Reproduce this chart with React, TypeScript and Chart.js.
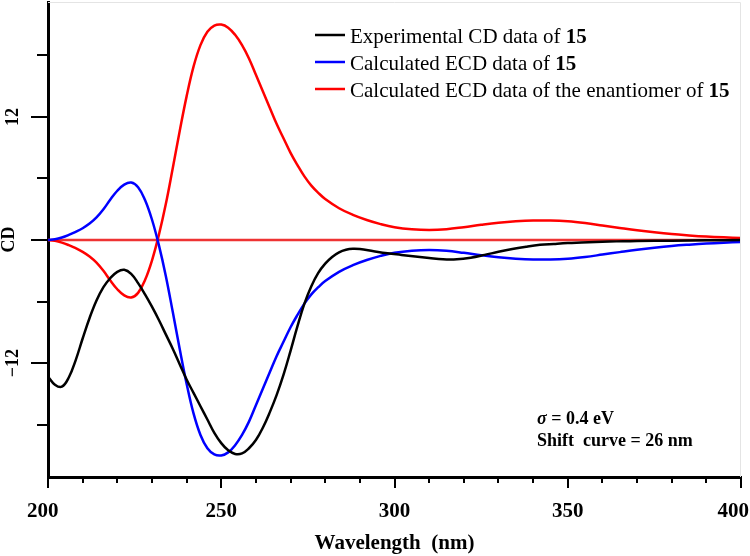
import React, { useEffect, useRef } from "react";
import { Chart, registerables } from "chart.js";

Chart.register(...registerables);

const expWavelength = [200,202,204,206,208,210,212,214,216,218,220,222,224,226,228,230,232,234,236,238,240,242,244,246,248,250,252,254,256,258,260,262,264,266,268,270,272,274,276,278,280,282,284,286,288,290,294,298,302,306,310,314,318,322,326,330,334,338,342,346,350,354,358,362,366,370,380,390,400];
const expCD = [-13.3,-14.1,-14.3,-13.4,-11.7,-9.6,-7.6,-5.9,-4.6,-3.7,-3.1,-2.9,-3.3,-4.2,-5.3,-6.5,-7.8,-9.2,-10.6,-12.1,-13.6,-14.9,-16.2,-17.5,-18.8,-19.8,-20.5,-20.85,-20.8,-20.3,-19.5,-18.3,-16.8,-15.1,-13.1,-10.8,-8.4,-6.2,-4.5,-3.2,-2.3,-1.65,-1.2,-0.95,-0.85,-0.88,-1.1,-1.3,-1.45,-1.6,-1.75,-1.88,-1.88,-1.72,-1.45,-1.15,-0.88,-0.65,-0.47,-0.38,-0.3,-0.25,-0.2,-0.15,-0.12,-0.1,-0.06,-0.03,0];

const calcWavelength = [200,202,204,206,208,210,212,214,216,218,220,222,224,226,228,230,232,234,236,238,240,242,244,246,248,250,252,254,256,258,260,262,264,266,268,270,272,274,276,278,280,284,288,292,296,300,305,310,315,320,325,330,335,340,345,350,355,360,365,370,375,380,385,390,395,400];
const calcCD = [0,0.08,0.25,0.5,0.8,1.15,1.6,2.2,3.0,3.95,4.8,5.4,5.6,5.15,3.9,2.0,-0.5,-3.5,-7.0,-10.6,-14.0,-16.9,-19.0,-20.3,-20.9,-21.0,-20.7,-20.0,-19.0,-17.7,-16.1,-14.5,-12.9,-11.3,-9.9,-8.5,-7.3,-6.2,-5.3,-4.6,-4.0,-3.1,-2.45,-1.95,-1.55,-1.25,-1.05,-0.98,-1.05,-1.25,-1.48,-1.68,-1.82,-1.9,-1.9,-1.82,-1.65,-1.42,-1.18,-0.95,-0.75,-0.58,-0.45,-0.34,-0.26,-0.2];
const enantCD = [0,-0.08,-0.25,-0.5,-0.8,-1.15,-1.6,-2.2,-3.0,-3.95,-4.8,-5.4,-5.6,-5.15,-3.9,-2.0,0.5,3.5,7.0,10.6,14.0,16.9,19.0,20.3,20.9,21.0,20.7,20.0,19.0,17.7,16.1,14.5,12.9,11.3,9.9,8.5,7.3,6.2,5.3,4.6,4.0,3.1,2.45,1.95,1.55,1.25,1.05,0.98,1.05,1.25,1.48,1.68,1.82,1.9,1.9,1.82,1.65,1.42,1.18,0.95,0.75,0.58,0.45,0.34,0.26,0.2];

const zeroWavelength = [200, 400];
const zeroCD = [0, 0];

const xMajorTicks = [200, 250, 300, 350, 400];
const xMinorTicks = [210, 220, 230, 240, 260, 270, 280, 290, 310, 320, 330, 340, 360, 370, 380, 390];
const yMajorTicks = [-12, 0, 12];
const yMinorTicks = [-18, -6, 6, 18];
const yLabelled = [-12, 12];

const legendItems = [
  { color: "#000000", text: "Experimental CD data of ", bold: "15" },
  { color: "#0000ff", text: "Calculated ECD data of ", bold: "15" },
  { color: "#ff0000", text: "Calculated ECD data of the enantiomer of ", bold: "15" },
];
const noteSigma = "σ";
const noteLine1 = " = 0.4 eV";
const noteLine2 = "Shift  curve = 26 nm";

const SERIF = "'Liberation Serif', 'Times New Roman', serif";

const pts = (xs: number[], ys: number[]) => xs.map((x, i) => ({ x, y: ys[i] }));

const decorPlugin = {
  id: "decor",
  afterDraw(chart: any) {
    const ctx = chart.ctx as CanvasRenderingContext2D;
    const xs = chart.scales.x;
    const ys = chart.scales.y;
    const { left, right, top, bottom } = chart.chartArea;
    ctx.save();
    ctx.strokeStyle = "#e4e4e4";
    ctx.lineWidth = 1;
    ctx.beginPath();
    ctx.moveTo(left, top + 0.5);
    ctx.lineTo(right - 0.5, top + 0.5);
    ctx.lineTo(right - 0.5, bottom);
    ctx.stroke();

    ctx.strokeStyle = "#000";
    ctx.lineWidth = 2;
    ctx.beginPath();
    xMajorTicks.forEach((v) => {
      const p = Math.round(xs.getPixelForValue(v));
      ctx.moveTo(p, bottom);
      ctx.lineTo(p, bottom + 11);
    });
    xMinorTicks.forEach((v) => {
      const p = Math.round(xs.getPixelForValue(v));
      ctx.moveTo(p, bottom);
      ctx.lineTo(p, bottom + 6);
    });
    yMajorTicks.forEach((v) => {
      const p = Math.round(ys.getPixelForValue(v));
      ctx.moveTo(left, p);
      ctx.lineTo(left - 17, p);
    });
    yMinorTicks.forEach((v) => {
      const p = Math.round(ys.getPixelForValue(v));
      ctx.moveTo(left, p);
      ctx.lineTo(left - 11, p);
    });
    ctx.stroke();

    const lx = 315;
    const rows = [35, 62, 89];
    ctx.textAlign = "left";
    ctx.textBaseline = "alphabetic";
    legendItems.forEach((it, i) => {
      const y = rows[i];
      ctx.strokeStyle = it.color;
      ctx.lineWidth = 2.5;
      ctx.beginPath();
      ctx.moveTo(lx, y);
      ctx.lineTo(lx + 30, y);
      ctx.stroke();
      ctx.fillStyle = "#000";
      ctx.font = `21px ${SERIF}`;
      ctx.fillText(it.text, lx + 35, y + 8.3);
      const w = ctx.measureText(it.text).width;
      ctx.font = `bold 21px ${SERIF}`;
      ctx.fillText(it.bold, lx + 35 + w, y + 8.3);
    });

    const nx = 537;
    ctx.fillStyle = "#000";
    ctx.font = `italic bold 18px ${SERIF}`;
    ctx.fillText(noteSigma, nx, 424);
    const sw = ctx.measureText(noteSigma).width;
    ctx.font = `bold 18px ${SERIF}`;
    ctx.fillText(noteLine1, nx + sw, 424);
    ctx.fillText(noteLine2, nx, 446);
    ctx.restore();
  },
};

const zeroPad = (s: any) => {
  s.paddingTop = 0;
  s.paddingBottom = 0;
  s.paddingLeft = 0;
  s.paddingRight = 0;
};

export default function App() {
  const ref = useRef<HTMLCanvasElement | null>(null);
  useEffect(() => {
    if (!ref.current) return;
    const lineStyle = { borderWidth: 2.5, pointRadius: 0, tension: 0.4 };
    const chart = new Chart(ref.current, {
      type: "line",
      data: {
        datasets: [
          { label: "Experimental", data: pts(expWavelength, expCD), borderColor: "#000000", ...lineStyle },
          { label: "Calculated", data: pts(calcWavelength, calcCD), borderColor: "#0000ff", ...lineStyle },
          { label: "Enantiomer", data: pts(calcWavelength, enantCD), borderColor: "#ff0000", ...lineStyle },
          { label: "Zero", data: pts(zeroWavelength, zeroCD), borderColor: "#ee3333", borderWidth: 2.5, pointRadius: 0 },
        ],
      },
      options: {
        responsive: false,
        animation: false,
        layout: { padding: { top: 2, right: 9, left: 0, bottom: 0 } },
        plugins: { legend: { display: false }, tooltip: { enabled: false } },
        scales: {
          x: {
            type: "linear",
            min: 200,
            max: 400,
            afterBuildTicks: (s: any) => {
              s.ticks = xMajorTicks.map((v) => ({ value: v }));
            },
            afterFit: (s: any) => {
              s.height = 79;
              zeroPad(s);
            },
            grid: { display: false, drawTicks: false },
            border: { display: true, color: "#000", width: 3 },
            ticks: {
              autoSkip: false,
              maxRotation: 0,
              padding: 22,
              color: "#000",
              font: { family: SERIF, size: 21, weight: "bold" },
              callback: (v: any) => {
                const n = Number(v);
                if (n === 400) return "400\u2002\u0020";
                if (n === 200) return "200\u2002";
                return String(n);
              },
            },
            title: {
              display: true,
              text: "Wavelength  (nm)",
              color: "#000",
              padding: { top: 0, bottom: 0 },
              font: { family: SERIF, size: 21, weight: "bold", lineHeight: 1.2 },
            },
          },
          y: {
            type: "linear",
            min: -23.1,
            max: 23.2,
            afterBuildTicks: (s: any) => {
              s.ticks = [...yMinorTicks, ...yMajorTicks].sort((a, b) => a - b).map((v) => ({ value: v }));
            },
            afterFit: (s: any) => {
              s.width = 48;
              zeroPad(s);
            },
            grid: { display: false, drawTicks: false },
            border: { display: true, color: "#000", width: 3 },
            ticks: {
              autoSkip: false,
              minRotation: 90,
              maxRotation: 90,
              crossAlign: "center",
              padding: 21,
              color: "#000",
              font: { family: SERIF, size: 18, weight: "bold" },
              callback: (v: any) =>
                yLabelled.includes(Number(v)) ? (Number(v) < 0 ? "\u2212" + Math.abs(Number(v)) : String(v)) : "",
            },
            title: {
              display: true,
              text: "CD",
              color: "#000",
              padding: { top: 0, bottom: 0 },
              font: { family: SERIF, size: 18, weight: "bold", lineHeight: 1.05 },
            },
          },
        },
      } as any,
      plugins: [decorPlugin],
    });
    return () => chart.destroy();
  }, []);
  return (
    <div style={{ position: "fixed", left: 0, top: 0, width: 750, height: 556, background: "#fff" }}>
      <canvas ref={ref} width={750} height={556} />
    </div>
  );
}
